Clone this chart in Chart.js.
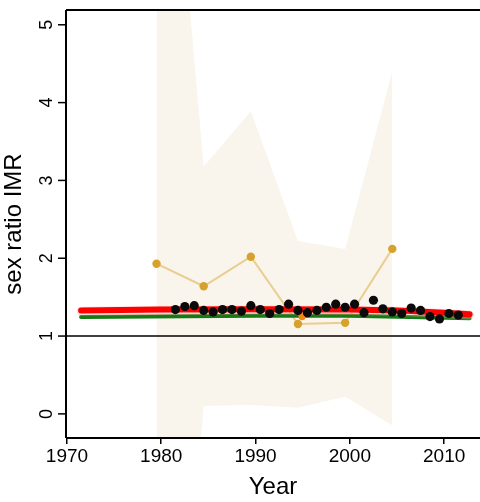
<!DOCTYPE html>
<html>
<head>
<meta charset="utf-8">
<script src="https://cdn.jsdelivr.net/npm/chart.js@4/dist/chart.umd.min.js"></script>
<style>
html,body{margin:0;padding:0;background:#fff;}
#c{display:block;}
</style>
</head>
<body>
<canvas id="c" width="480" height="502"></canvas>
<script>
// ---- data ----
const dotYears = [1981.5,1982.5,1983.5,1984.5,1985.5,1986.5,1987.5,1988.5,1989.5,1990.5,1991.5,1992.5,1993.5,1994.5,1995.5,1996.5,1997.5,1998.5,1999.5,2000.5,2001.5,2002.5,2003.5,2004.5,2005.5,2006.5,2007.5,2008.5,2009.5,2010.5,2011.5];
const dotValues = [1.34,1.38,1.39,1.33,1.31,1.34,1.34,1.32,1.39,1.34,1.29,1.34,1.41,1.33,1.30,1.33,1.37,1.41,1.37,1.41,1.30,1.46,1.35,1.31,1.29,1.36,1.33,1.25,1.22,1.29,1.27];

const surveyYears = [1979.5,1984.5,1989.5,1994.5,1999.5,2004.5];
const surveyValues = [1.93,1.64,2.02,1.155,1.17,2.12];
const surveyUpper = [10.1,3.18,3.89,2.22,2.12,4.40];
const surveyLower = [-6.95,0.10,0.115,0.08,0.22,-0.15];

const extraYears = [1994.93];
const extraValues = [1.25];

const redYears = [1971.5,1980,1990,2000,2005,2010,2012.7];
const redValues = [1.33,1.34,1.345,1.34,1.33,1.30,1.28];

const greenYears = [1971.5,1990,2000,2012.7];
const greenValues = [1.245,1.26,1.26,1.23];

const refYears = [1969.9,2013.8];
const refValues = [1,1];

const xTicks = [1970,1980,1990,2000,2010];
const yTicks = [0,1,2,3,4,5];

const pts = (xs, ys) => xs.map((x,i)=>({x:x, y:ys[i]}));

const FONT = '"Liberation Sans", Arial, Helvetica, sans-serif';

const framePlugin = {
  id: 'frame',
  afterDraw(chart) {
    const {ctx, chartArea:a, scales} = chart;
    ctx.save();
    ctx.strokeStyle = '#000';
    ctx.lineWidth = 2;
    ctx.beginPath();
    ctx.moveTo(a.left, a.top); ctx.lineTo(a.right, a.top);
    ctx.moveTo(a.left, a.top); ctx.lineTo(a.left, a.bottom);
    ctx.moveTo(a.left, a.bottom); ctx.lineTo(a.right, a.bottom);
    ctx.stroke();
    // y tick marks and rotated labels
    const ys = scales.y;
    ctx.lineWidth = 1.5;
    ctx.fillStyle = '#000';
    ctx.font = '18px ' + FONT;
    ctx.textAlign = 'center';
    ctx.textBaseline = 'bottom';
    ys.ticks.forEach(t => {
      const py = ys.getPixelForValue(t.value);
      ctx.beginPath();
      ctx.moveTo(a.left - 8, py); ctx.lineTo(a.left, py);
      ctx.stroke();
      ctx.save();
      ctx.translate(a.left - 13, py);
      ctx.rotate(-Math.PI/2);
      ctx.fillText(String(t.value), 0, 3);
      ctx.restore();
    });
    ctx.restore();
  }
};

new Chart(document.getElementById('c'), {
  type: 'scatter',
  data: {
    datasets: [
      { // black annual estimates
        data: pts(dotYears, dotValues), showLine:false,
        pointRadius: 4.6, pointBackgroundColor:'#0a0a0a', pointBorderWidth:0, order:1
      },
      { // orange point
        data: pts(extraYears, extraValues), showLine:false,
        pointRadius: 3.6, pointBackgroundColor:'#F0890E', pointBorderWidth:0, order:2
      },
      { // red fit
        data: pts(redYears, redValues), showLine:true, pointRadius:0,
        borderColor:'#FF0000', borderWidth:6, borderCapStyle:'round', order:3
      },
      { // red halo
        data: pts(redYears, redValues.map(v=>v-0.01)), showLine:true, pointRadius:0,
        borderColor:'rgba(255,160,160,0.35)', borderWidth:9, borderCapStyle:'round', order:4
      },
      { // green fit
        data: pts(greenYears, greenValues), showLine:true, pointRadius:0,
        borderColor:'#157A15', borderWidth:4, borderCapStyle:'round', order:5
      },
      { // survey points
        data: pts(surveyYears, surveyValues), showLine:true,
        borderColor:'#EACD90', borderWidth:2,
        pointRadius:4.2, pointBackgroundColor:'#D6A22B', pointBorderWidth:0, order:6
      },
      { // reference line
        data: pts(refYears, refValues), showLine:true, pointRadius:0,
        borderColor:'#000', borderWidth:1.5, order:7
      },
      { // band upper
        data: pts(surveyYears, surveyUpper), showLine:true, pointRadius:0,
        borderWidth:0, borderColor:'rgba(0,0,0,0)', fill:'+1', backgroundColor:'#FAF5EC', order:9
      },
      { // band lower
        data: pts(surveyYears, surveyLower), showLine:true, pointRadius:0,
        borderWidth:0, borderColor:'rgba(0,0,0,0)', order:10
      }
    ]
  },
  options: {
    responsive:false, animation:false,
    layout:{ autoPadding:false, padding:{ top:10, right:0, left:0, bottom:0 } },
    plugins:{ legend:{display:false}, tooltip:{enabled:false} },
    scales:{
      x:{
        type:'linear', min:1969.9, max:2013.8,
        afterFit(s){ s.height = 64; s.paddingLeft = 0; s.paddingRight = 0; },
        afterBuildTicks(s){ s.ticks = xTicks.map(v=>({value:v})); },
        grid:{ drawOnChartArea:false, drawTicks:true, tickLength:6, color:'#000', lineWidth:1.5 },
        border:{ display:false },
        ticks:{ color:'#000', font:{ family:FONT, size:19 }, padding:1, maxRotation:0, callback:v=>String(v) },
        title:{ display:true, text:'Year', color:'#000', font:{ family:FONT, size:24 }, padding:{ top:-4, bottom:0 } }
      },
      y:{
        type:'linear', min:-0.31, max:5.19,
        afterFit(s){ s.width = 66; s.paddingTop = 0; s.paddingBottom = 0; },
        afterBuildTicks(s){ s.ticks = yTicks.map(v=>({value:v})); },
        grid:{ display:false },
        border:{ display:false },
        ticks:{ display:false },
        title:{ display:true, text:'sex ratio IMR', color:'#000', font:{ family:FONT, size:24 }, padding:{ top:0, bottom:0 } }
      }
    }
  },
  plugins:[framePlugin]
});
</script>
</body>
</html>
